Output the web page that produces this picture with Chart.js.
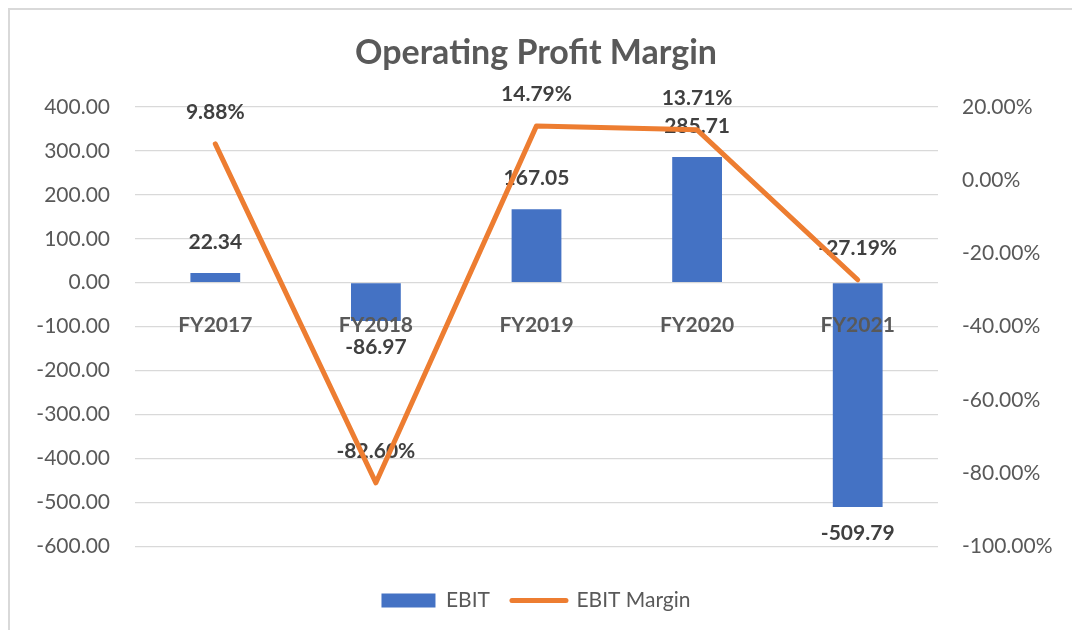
<!DOCTYPE html>
<html>
<head>
<meta charset="utf-8">
<script src="https://cdn.jsdelivr.net/npm/chart.js@4.4.1/dist/chart.umd.min.js"></script>
<style>
  html, body { margin: 0; padding: 0; background: #fff; }
  #wrap { position: relative; width: 1072px; height: 630px; }
  #frame { position: absolute; left: 8px; top: 8px; right: 0; bottom: 0;
           border-top: 2px solid #d9d9d9; border-left: 2px solid #d9d9d9; }
  canvas { position: absolute; left: 0; top: 0; }
</style>
</head>
<body>
<div id="wrap">
  <div id="frame"></div>
  <canvas id="grafico" width="1072" height="630"></canvas>
</div>
<script>
const categorias = ["FY2017", "FY2018", "FY2019", "FY2020", "FY2021"];
const ebit = [22.34, -86.97, 167.05, 285.71, -509.79];
const margem = [9.88, -82.60, 14.79, 13.71, -27.19];

const CINZA = '#595959';
const ESCURO = '#404040';
const FONTE = 'Lato, "Open Sans", sans-serif';

// rótulos de dados (desenhados logo depois das barras, antes da linha)
const rotulos = {
  id: 'rotulos',
  afterDatasetDraw(chart, args) {
    if (args.index !== 0) return;
    const ctx = chart.ctx;
    ctx.save();
    ctx.font = 'bold 21px ' + FONTE;
    ctx.fillStyle = ESCURO;
    ctx.textAlign = 'center';
    ctx.textBaseline = 'middle';

    const barras = chart.getDatasetMeta(0).data;
    barras.forEach((bar, i) => {
      const v = ebit[i];
      const y = v >= 0 ? bar.y - 31 : bar.y + 26;
      ctx.fillText(v.toFixed(2), bar.x, y);
    });

    const pontos = chart.getDatasetMeta(1).data;
    pontos.forEach((p, i) => {
      ctx.fillText(margem[i].toFixed(2) + '%', p.x, p.y - 32);
    });
    ctx.restore();
  }
};

const ctx = document.getElementById("grafico").getContext("2d");

new Chart(ctx, {
  data: {
    labels: categorias,
    datasets: [
      {
        type: 'bar',
        label: 'EBIT',
        data: ebit,
        backgroundColor: '#4472C4',
        yAxisID: 'y',
        order: 1,
        barPercentage: 1,
        categoryPercentage: 0.31
      },
      {
        type: 'line',
        label: 'EBIT Margin',
        data: margem,
        borderColor: '#ED7D31',
        backgroundColor: '#ED7D31',
        borderWidth: 5,
        borderCapStyle: 'round',
        borderJoinStyle: 'round',
        pointRadius: 0,
        tension: 0,
        yAxisID: 'y1',
        order: 0
      }
    ]
  },
  options: {
    responsive: false,
    animation: false,
    layout: { padding: { left: 0, right: 0, top: 0, bottom: 9 } },
    scales: {
      x: {
        position: { y: 0 },
        grid: { display: false, drawTicks: false },
        border: { display: false },
        ticks: {
          z: 1,
          padding: 30,
          color: CINZA,
          font: { family: FONTE, size: 21, weight: 'bold' }
        }
      },
      y: {
        position: 'left',
        min: -600,
        max: 400,
        afterFit(scale) { scale.width = 135; },
        ticks: {
          stepSize: 100,
          padding: 25,
          color: CINZA,
          font: { family: FONTE, size: 21 },
          callback: v => v.toFixed(2)
        },
        grid: { color: '#d9d9d9', lineWidth: 1.3, drawTicks: false },
        border: { display: false }
      },
      y1: {
        position: 'right',
        min: -100,
        max: 20,
        afterFit(scale) { scale.width = 134; },
        ticks: {
          stepSize: 20,
          padding: 24,
          color: CINZA,
          font: { family: FONTE, size: 21 },
          callback: v => v.toFixed(2) + '%'
        },
        grid: { display: false, drawTicks: false },
        border: { display: false }
      }
    },
    plugins: {
      title: {
        display: true,
        text: 'Operating Profit Margin',
        color: CINZA,
        font: { family: FONTE, size: 34, weight: 'bold' },
        padding: { top: 33, bottom: 33 }
      },
      legend: {
        position: 'bottom',
        title: {
          display: true,
          text: ' ',
          font: { size: 2 },
          padding: { top: 19, bottom: 0 }
        },
        labels: {
          usePointStyle: true,
          pointStyleWidth: 54,
          boxHeight: 14,
          padding: 22,
          color: CINZA,
          font: { family: FONTE, size: 21 },
          sort: (a, b) => a.datasetIndex - b.datasetIndex,
          generateLabels(chart) {
            const itens = Chart.defaults.plugins.legend.labels.generateLabels(chart);
            itens.forEach(it => {
              if (it.datasetIndex === 0) {
                it.pointStyle = 'rect';
                it.lineWidth = 0;
                it.fillStyle = '#4472C4';
              } else {
                it.pointStyle = 'line';
                it.lineWidth = 5;
                it.strokeStyle = '#ED7D31';
                it.lineCap = 'round';
              }
            });
            return itens;
          }
        }
      },
      tooltip: { enabled: false }
    }
  },
  plugins: [rotulos]
});
</script>
</body>
</html>
